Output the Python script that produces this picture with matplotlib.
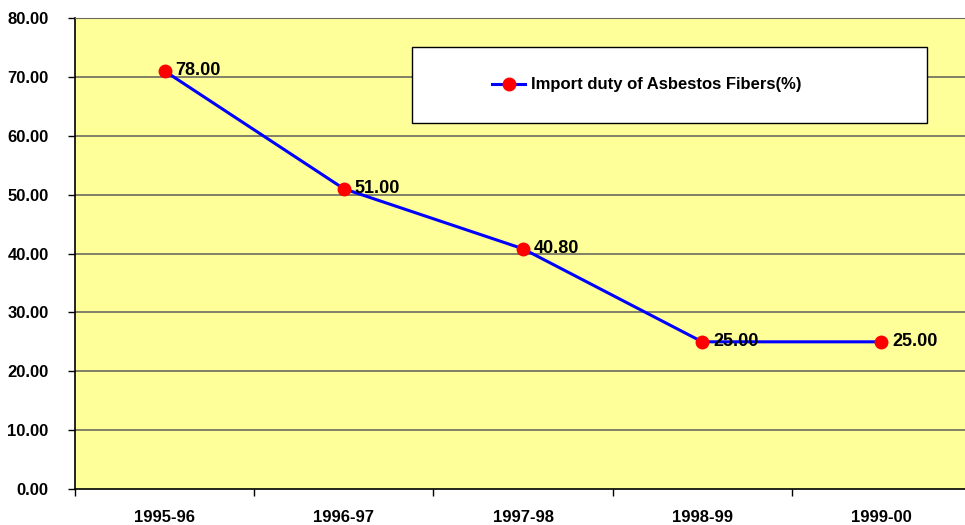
import matplotlib
matplotlib.use("Agg")
import matplotlib.pyplot as plt
from matplotlib.patches import Rectangle
from matplotlib.ticker import FixedLocator, NullFormatter, FixedFormatter

categories = ["1995-96", "1996-97", "1997-98", "1998-99", "1999-00"]
values = [71.0, 51.0, 40.8, 25.0, 25.0]
point_labels = ["78.00", "51.00", "40.80", "25.00", "25.00"]
y_ticks = [0, 10, 20, 30, 40, 50, 60, 70, 80]
series_name = "Import duty of Asbestos Fibers(%)"

plt.rcParams['font.family'] = ['Liberation Sans', 'DejaVu Sans']
plt.rcParams['font.weight'] = 'bold'

fig = plt.figure(figsize=(9.65, 5.25), dpi=100)
W, H = 965, 525
left, right, top, bottom = 75, 971, 18, 489
ax = fig.add_axes([left / W, 1 - bottom / H, (right - left) / W, (bottom - top) / H])
ax.set_facecolor('#FFFF99')

x = list(range(len(categories)))
ax.set_xlim(-0.5, len(categories) - 0.5)
ax.set_ylim(0, 80)

for yv in y_ticks[1:]:
    ax.axhline(yv, color='#6b6b5e', lw=1.2, zorder=1)

line, = ax.plot(x, values, color='#0000FF', lw=2.2, marker='o', markersize=9,
                markerfacecolor='#FF0000', markeredgecolor='#FF0000', zorder=3,
                label=series_name)

for xi, yi, lab in zip(x, values, point_labels):
    ax.annotate(lab, (xi, yi), xytext=(8, 0), textcoords='offset points',
                va='center', ha='left', fontsize=13, fontweight='bold', zorder=4)

ax.yaxis.set_major_locator(FixedLocator(y_ticks))
ax.set_yticklabels([f"{v:.2f}" for v in y_ticks], fontsize=12, fontweight='bold')
ax.tick_params(axis='y', direction='out', length=5, width=1, pad=14)

ax.xaxis.set_major_locator(FixedLocator([i - 0.5 for i in range(len(categories) + 1)]))
ax.xaxis.set_major_formatter(NullFormatter())
ax.xaxis.set_minor_locator(FixedLocator(x))
ax.xaxis.set_minor_formatter(FixedFormatter(categories))
ax.tick_params(axis='x', which='major', direction='out', length=5, width=1)
ax.tick_params(axis='x', which='minor', length=0, pad=15, labelsize=12)
for t in ax.get_xticklabels(minor=True):
    t.set_fontweight('bold')

ax.spines['right'].set_visible(False)
ax.spines['top'].set_color('#6b6b5e')
ax.spines['left'].set_color('black')
ax.spines['bottom'].set_color('black')
ax.spines['left'].set_linewidth(1.2)
ax.spines['bottom'].set_linewidth(1.2)

# legend box
bx0, bx1, by0, by1 = 412, 927, 47, 123
fig.patches.append(Rectangle((bx0 / W, 1 - by1 / H), (bx1 - bx0) / W, (by1 - by0) / H,
                             transform=fig.transFigure, facecolor='white',
                             edgecolor='black', lw=1.0, zorder=5))
leg = fig.legend(handles=[line], loc='center left',
                 bbox_to_anchor=(477 / W, 1 - 85 / H), frameon=False,
                 prop={'size': 12, 'weight': 'bold'}, handlelength=2.0,
                 handletextpad=0.35)
leg.set_zorder(6)

fig.savefig("out.png", dpi=100)
